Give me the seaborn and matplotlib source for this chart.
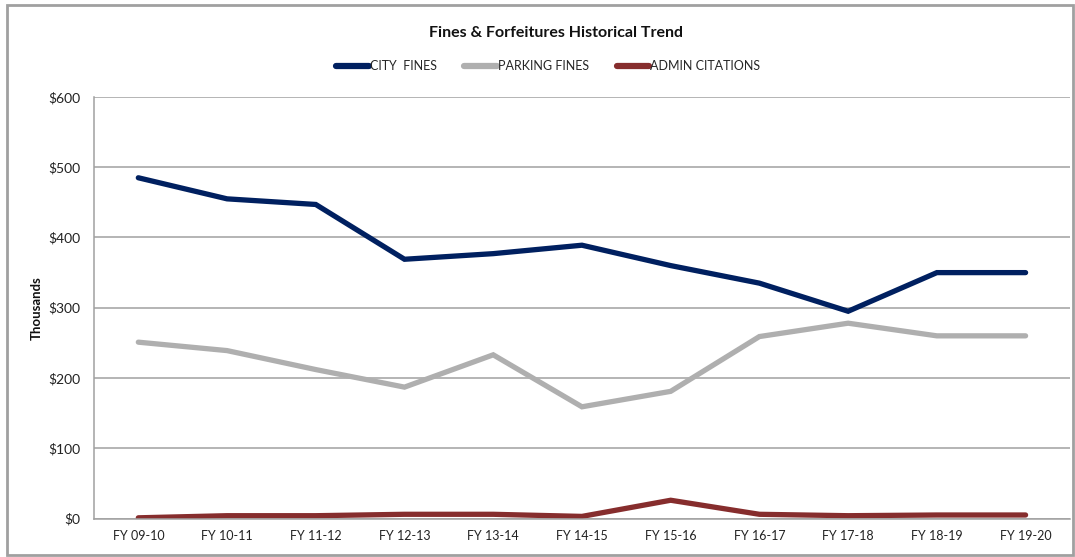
import matplotlib
matplotlib.use("Agg")
import matplotlib.pyplot as plt
import seaborn as sns
import pandas as pd
from matplotlib.patches import Rectangle
from matplotlib.lines import Line2D

years = ["FY 09-10", "FY 10-11", "FY 11-12", "FY 12-13", "FY 13-14", "FY 14-15",
         "FY 15-16", "FY 16-17", "FY 17-18", "FY 18-19", "FY 19-20"]
city_fines = [485, 455, 447, 369, 377, 389, 360, 335, 295, 350, 350]
parking_fines = [251, 239, 212, 187, 233, 159, 181, 259, 278, 260, 260]
admin_citations = [1, 4, 4, 6, 6, 3, 26, 6, 4, 5, 5]
series_names = ["CITY  FINES", "PARKING FINES", "ADMIN CITATIONS"]
colors = ["#002060", "#AFAFAF", "#862D2D"]
yticks = [0, 100, 200, 300, 400, 500, 600]

sns.set_theme(style="white")
plt.rcParams['font.family'] = ['Lato', 'DejaVu Sans']

rows = []
for name, vals in zip(series_names, [city_fines, parking_fines, admin_citations]):
    for i, (yr, v) in enumerate(zip(years, vals)):
        rows.append({"pos": i, "year": yr, "value": v, "series": name})
df = pd.DataFrame(rows)

fig = plt.figure(figsize=(10.75, 5.57), dpi=100)
ax = fig.add_axes([0.0874, 0.0691, 0.9079, 0.7568])

sns.lineplot(data=df, x="pos", y="value", hue="series", hue_order=series_names,
             palette=colors, linewidth=3.8, ax=ax, legend=False,
             solid_capstyle="round", solid_joinstyle="miter", sort=False)

ax.set_xlim(-0.5, len(years) - 0.5)
ax.set_ylim(0, 600)
ax.set_xticks(range(len(years)))
ax.set_xticklabels(years, fontsize=9, color="#222222")
ax.set_yticks(yticks)
ax.set_yticklabels([f"${t}" for t in yticks], fontsize=10, color="#222222")
ax.tick_params(axis="both", length=0, pad=8)
ax.tick_params(axis="y", pad=10)
ax.set_xlabel("")
ax.set_ylabel("Thousands", fontsize=9.5, fontweight="bold", labelpad=4, color="#111111")
ax.grid(axis="y", color="#A0A0A0", linewidth=1.1)
ax.set_axisbelow(True)
for s in ["top", "right"]:
    ax.spines[s].set_visible(False)
for s in ["left", "bottom"]:
    ax.spines[s].set_color("#A0A0A0")
    ax.spines[s].set_linewidth(1.1)

handles = [Line2D([0], [0], color=c, linewidth=4.5, solid_capstyle="round") for c in colors]
fig.legend(handles, series_names, loc="center", bbox_to_anchor=(0.51, 0.881),
           ncol=3, frameon=False, fontsize=9, handlelength=2.6, handletextpad=0.1,
           columnspacing=2.2)

fig.text(0.517, 0.94, "Fines & Forfeitures Historical Trend", ha="center", va="center",
         fontsize=11.5, fontweight="bold", color="#111111")

fig.patches.append(Rectangle((0.0065, 0.004), 0.9915, 0.987, transform=fig.transFigure,
                             fill=False, edgecolor="#A0A0A0", linewidth=2))

fig.savefig("out.png", dpi=100)
